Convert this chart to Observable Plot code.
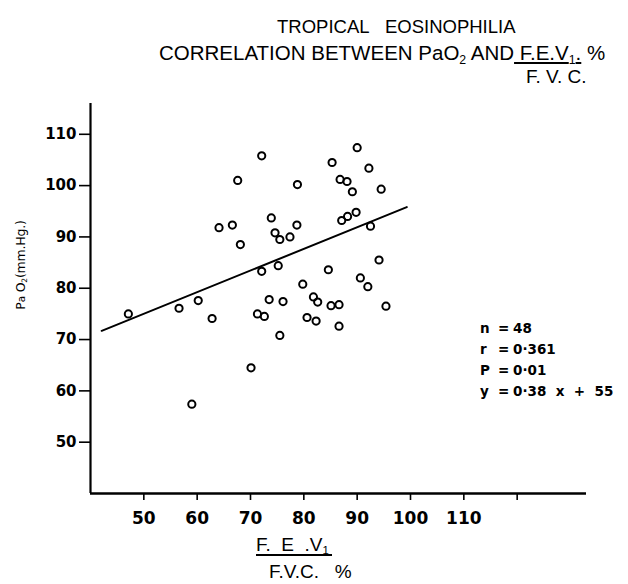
<!DOCTYPE html>
<html><head><meta charset="utf-8">
<script src="https://cdn.jsdelivr.net/npm/d3@7"></script>
<script src="https://cdn.jsdelivr.net/npm/@observablehq/plot@0.6"></script>
<style>
body{margin:0;background:#fff;}
#wrap{position:relative;width:628px;height:584px;overflow:hidden;font-family:"Liberation Sans",Arial,sans-serif;color:#000;}
#chart{position:absolute;left:0;top:0;}
.t{position:absolute;white-space:nowrap;line-height:1;}
sub{font-size:0.6em;vertical-align:-0.3em;line-height:0;}
.stats{position:absolute;left:480px;top:318px;font-family:"DejaVu Sans",sans-serif;font-weight:bold;font-size:13.5px;line-height:21px;}
.stats div{white-space:nowrap;}
.stats span.k{display:inline-block;width:18px;}
.stats span.e{display:inline-block;width:15px;}
.ylab{position:absolute;left:20px;top:265px;transform:translate(-50%,-50%) rotate(-90deg);font-family:"DejaVu Sans",sans-serif;font-size:12.5px;letter-spacing:-0.2px;white-space:nowrap;}
.xlab{position:absolute;font-size:19px;white-space:nowrap;line-height:1;}
</style>
</head><body>
<div id="wrap">
  <div id="chart"></div>
  <div class="t" style="left:277px;top:18px;font-size:18.5px;">TROPICAL&nbsp;&nbsp;&nbsp;EOSINOPHILIA</div>
  <div class="t" style="left:159px;top:43px;font-size:20.5px;">CORRELATION BETWEEN PaO<sub>2</sub> AND<u>&nbsp;F.E.V<sub>1</sub>.</u> %</div>
  <div class="t" style="left:526px;top:67px;font-size:19px;">F. V. C.</div>
  <div class="ylab">P<span style="font-size:10.5px">a</span> O<sub>2</sub>(mm.Hg.)</div>
  <div class="xlab" style="left:256px;top:535px;border-bottom:2px solid #000;padding:0 3px 0 0;">F.&nbsp;&nbsp;E&nbsp;&nbsp;.V<sub>1</sub></div>
  <div class="xlab" style="left:269px;top:562px;">F.V.C.&nbsp;&nbsp;&nbsp;%</div>
  <div class="stats">
    <div><span class="k">n</span><span class="e">=</span>48</div>
    <div><span class="k">r</span><span class="e">=</span>0·361</div>
    <div><span class="k">P</span><span class="e">=</span>0·01</div>
    <div><span class="k">y</span><span class="e">=</span>0·38&nbsp;&nbsp;x&nbsp;&nbsp;+&nbsp;&nbsp;55</div>
  </div>
</div>
<script>
// F.E.V1/F.V.C. % (x) and PaO2 mm Hg (y)
const fevRatio = [72.1,67.6,78.8,73.9,64.1,66.6,78.7,74.6,75.5,77.4,68.1,72.1,75.2,79.8,
  90.0,85.3,92.2,86.8,88.1,89.1,94.5,89.8,88.2,87.1,92.5,94.1,84.6,90.6,92.0,
  47.1,56.6,60.2,62.8,73.5,76.1,71.3,72.6,80.6,75.5,70.1,59.0,81.8,82.6,85.1,86.6,95.4,82.3,86.6];
const paO2 = [105.8,101.0,100.2,93.7,91.8,92.3,92.3,90.8,89.5,90.0,88.5,83.3,84.4,80.8,
  107.4,104.5,103.4,101.2,100.8,98.8,99.3,94.8,94.0,93.2,92.1,85.5,83.6,82.0,80.3,
  75.0,76.1,77.6,74.1,77.8,77.4,75.0,74.5,74.3,70.8,64.5,57.4,78.3,77.3,76.6,76.8,76.5,73.6,72.6];
// regression line end points as drawn
const fitX = [42.1, 99.3];
const fitY = [71.7, 95.8];
const xTicks = [50,60,70,80,90,100,110,120];
const yTicks = [50,60,70,80,90,100,110];
const xDomain = [40,133];
const yDomain = [40,116];

const pts = fevRatio.map((x,i)=>({x, y:paO2[i]}));
const fit = fitX.map((x,i)=>({x, y:fitY[i]}));

const chart = Plot.plot({
  width: 628, height: 584,
  marginLeft: 90, marginRight: 42, marginTop: 103, marginBottom: 91,
  x: {domain: xDomain},
  y: {domain: yDomain},
  style: {fontFamily: "DejaVu Sans, sans-serif", color: "#000", background: "#fff"},
  marks: [
    Plot.ruleX([xDomain[0]], {y1: yDomain[0], y2: yDomain[1], stroke: "#000", strokeWidth: 2.2}),
    Plot.ruleY([yDomain[0]], {x1: xDomain[0], x2: xDomain[1], stroke: "#000", strokeWidth: 2.4}),
    Plot.axisY({ticks: yTicks, tickSize: 11, tickPadding: 3, label: null, fontSize: 15, fontWeight: "bold", strokeWidth: 1.6}),
    Plot.axisX({ticks: xTicks, tickSize: 7, tickPadding: 11, label: null, fontSize: 17, fontWeight: "bold", strokeWidth: 1.6,
      tickFormat: d => d === 120 ? "" : String(d)}),
    Plot.line(fit, {x: "x", y: "y", stroke: "#000", strokeWidth: 2}),
    Plot.dot(pts, {x: "x", y: "y", r: 3.6, stroke: "#000", strokeWidth: 2, fill: "none"})
  ]
});
document.getElementById("chart").appendChild(chart);
</script>
</body></html>
